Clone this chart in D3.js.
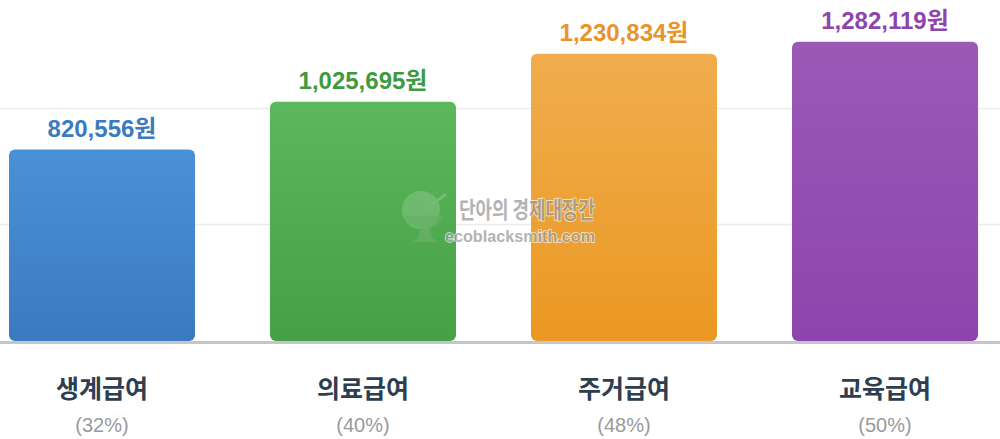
<!DOCTYPE html>
<html>
<head>
<meta charset="utf-8">
<script src="https://cdn.jsdelivr.net/npm/d3@7"></script>
<style>
  html, body { margin: 0; padding: 0; background: #fff; }
  svg { display: block; }
  .valor { font-family: "Liberation Sans", "Noto Sans CJK KR", sans-serif; font-weight: 700; font-size: 24px; }
  .cat { font-family: "Noto Sans CJK KR", sans-serif; font-weight: 600; font-size: 25px; fill: #2c3e50; }
  .pct { font-family: "Liberation Sans", sans-serif; font-size: 20px; fill: #9a9a9a; }
  .marca { font-family: "Noto Sans CJK KR", sans-serif; font-weight: 700; fill: #9a9a9a; stroke: #fff; stroke-width: 1.5px; paint-order: stroke; }
</style>
</head>
<body>
<div id="grafico"></div>
<script>
// datos
const categorias = ["생계급여", "의료급여", "주거급여", "교육급여"];
const montos = [820556, 1025695, 1230834, 1282119];
const porcentajes = ["(32%)", "(40%)", "(48%)", "(50%)"];
const lineasGuia = [500000, 1000000];

// colores [arriba, abajo, texto]
const colores = [
    ["#4a90d9", "#3a7bbf", "#3a7bbf"],
    ["#5cb85c", "#46a046", "#3f9a3f"],
    ["#f0ad4e", "#eb9822", "#e8942a"],
    ["#9b59b6", "#8e44ad", "#8e44ad"]
];

const w = 1000;
const h = 439;
const base = 341;

const svg = d3.select("#grafico")
    .append("svg")
    .attr("width", w)
    .attr("height", h);

const defs = svg.append("defs");
colores.forEach((c, i) => {
    const g = defs.append("linearGradient")
        .attr("id", "grad" + i)
        .attr("x1", 0).attr("y1", 0)
        .attr("x2", 0).attr("y2", 1);
    g.append("stop").attr("offset", "0%").attr("stop-color", c[0]);
    g.append("stop").attr("offset", "100%").attr("stop-color", c[1]);
});

const xScale = d3.scaleBand()
    .domain(categorias)
    .range([-28.5, 1015.5])
    .paddingInner(0.2874)
    .paddingOuter(0.1437);

const yScale = d3.scaleLinear()
    .domain([0, 1500000])
    .range([base, -9]);

// lineas de guia
svg.append("g")
    .selectAll("line")
    .data(lineasGuia)
    .enter()
    .append("line")
    .attr("x1", 0)
    .attr("x2", w)
    .attr("y1", d => Math.round(yScale(d)) + 0.5)
    .attr("y2", d => Math.round(yScale(d)) + 0.5)
    .attr("stroke", "#ebebeb")
    .attr("stroke-width", 1.5);

// barras
svg.append("g")
    .selectAll("rect")
    .data(montos)
    .enter()
    .append("rect")
    .attr("x", (d, i) => xScale(categorias[i]))
    .attr("y", d => yScale(d))
    .attr("width", xScale.bandwidth())
    .attr("height", d => base - yScale(d))
    .attr("rx", 6)
    .attr("fill", (d, i) => `url(#grad${i})`);

// eje base
svg.append("line")
    .attr("x1", 0)
    .attr("x2", w)
    .attr("y1", base + 1.5)
    .attr("y2", base + 1.5)
    .attr("stroke", "#c3c7cb")
    .attr("stroke-width", 3);

// valores
svg.append("g")
    .selectAll("text")
    .data(montos)
    .enter()
    .append("text")
    .attr("class", "valor")
    .attr("x", (d, i) => xScale(categorias[i]) + xScale.bandwidth() / 2)
    .attr("y", d => yScale(d) - 13)
    .attr("text-anchor", "middle")
    .attr("fill", (d, i) => colores[i][2])
    .text(d => d3.format(",")(d) + "원");

// categorias
svg.append("g")
    .selectAll("text")
    .data(categorias)
    .enter()
    .append("text")
    .attr("class", "cat")
    .attr("x", d => xScale(d) + xScale.bandwidth() / 2)
    .attr("y", 398)
    .attr("text-anchor", "middle")
    .text(d => d);

svg.append("g")
    .selectAll("text")
    .data(porcentajes)
    .enter()
    .append("text")
    .attr("class", "pct")
    .attr("x", (d, i) => xScale(categorias[i]) + xScale.bandwidth() / 2)
    .attr("y", 432)
    .attr("text-anchor", "middle")
    .text(d => d);

// marca de agua
const marca = svg.append("g").attr("opacity", 0.75);
marca.append("circle")
    .attr("cx", 421).attr("cy", 210).attr("r", 19)
    .attr("fill", "#8fc98f").attr("opacity", 0.6);
marca.append("path")
    .attr("d", "M404,216 L444,216 L436,226 L430,228 L432,238 L438,242 L412,242 L418,238 L420,228 L410,224 Z")
    .attr("fill", "#6fb06f").attr("opacity", 0.8);
marca.append("line")
    .attr("x1", 422).attr("y1", 212).attr("x2", 446).attr("y2", 194)
    .attr("stroke", "#7fbf7f").attr("stroke-width", 3);
marca.append("text")
    .attr("class", "marca")
    .attr("x", 527).attr("y", 218)
    .attr("text-anchor", "middle")
    .attr("textLength", 136)
    .attr("lengthAdjust", "spacingAndGlyphs")
    .style("font-size", "23px")
    .text("단아의 경제대장간");
marca.append("text")
    .attr("class", "marca")
    .attr("x", 520).attr("y", 242)
    .attr("text-anchor", "middle")
    .attr("textLength", 150)
    .attr("lengthAdjust", "spacingAndGlyphs")
    .style("font-family", "'Liberation Sans', sans-serif")
    .style("font-size", "16px")
    .text("ecoblacksmith.com");
</script>
</body>
</html>
